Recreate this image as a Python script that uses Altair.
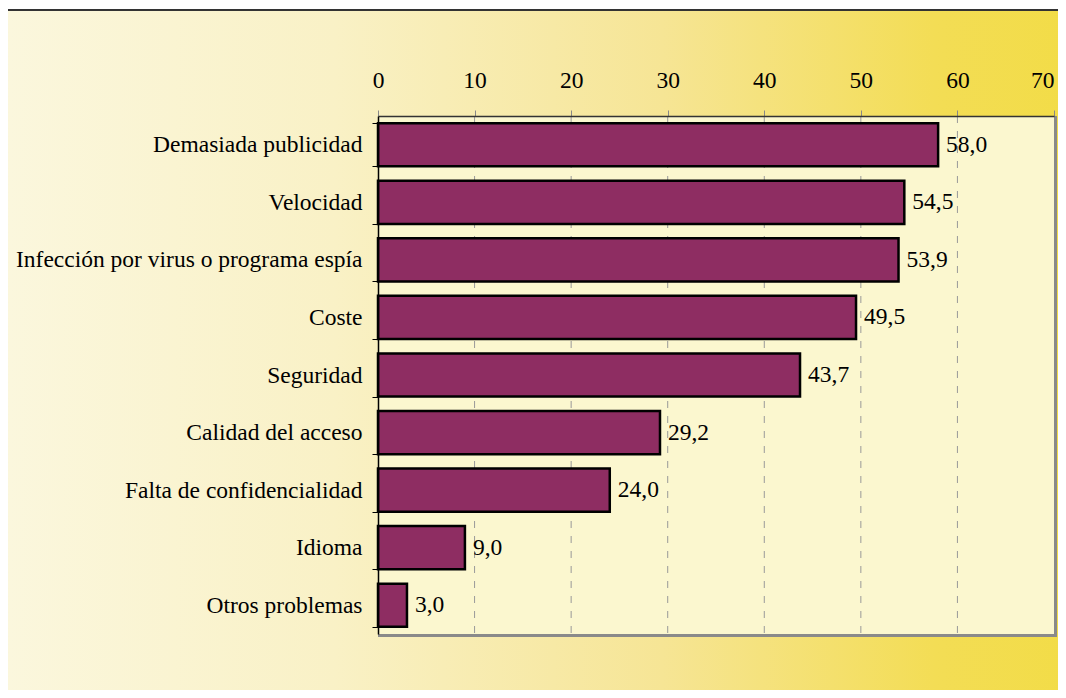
import altair as alt
import pandas as pd

categories = [
    "Demasiada publicidad",
    "Velocidad",
    "Infección por virus o programa espía",
    "Coste",
    "Seguridad",
    "Calidad del acceso",
    "Falta de confidencialidad",
    "Idioma",
    "Otros problemas",
]
values = [58.0, 54.5, 53.9, 49.5, 43.7, 29.2, 24.0, 9.0, 3.0]
x_ticks = [0, 10, 20, 30, 40, 50, 60, 70]
grid_vals = [10, 20, 30, 40, 50, 60]

W, H = 676, 518
FONT = "Liberation Serif"
FS = 23.5

df = pd.DataFrame({"cat": categories, "val": values})
df["label"] = [f"{v:.1f}".replace(".", ",") for v in values]

xscale = alt.Scale(domain=[0, 70], nice=False, zero=True)
yscale = alt.Scale(domain=categories, paddingInner=0.25, paddingOuter=0.125)

one = pd.DataFrame({"a": [0]})

gradient = alt.Gradient(
    gradient="linear",
    x1=0, x2=1, y1=0, y2=0,
    stops=[
        alt.GradientStop(color="#FBF7DD", offset=0),
        alt.GradientStop(color="#F9F1C6", offset=0.3),
        alt.GradientStop(color="#F6E595", offset=0.6),
        alt.GradientStop(color="#F3DD55", offset=0.85),
        alt.GradientStop(color="#F2DC44", offset=1),
    ],
)

bg = alt.Chart(one).mark_rect(fill=gradient, stroke="#333333", strokeWidth=2).encode(
    x=alt.value(-371), x2=alt.value(720), y=alt.value(-106), y2=alt.value(620)
)

shadow = alt.Chart(one).mark_rect(fill="#8A8A8A").encode(
    x=alt.value(0), x2=alt.value(W + 3), y=alt.value(0), y2=alt.value(H + 3)
)

plotbg = alt.Chart(one).mark_rect(fill="#FBF7CF").encode(
    x=alt.value(0), x2=alt.value(W), y=alt.value(0), y2=alt.value(H)
)

grid = alt.Chart(pd.DataFrame({"g": grid_vals})).mark_rule(
    color="#999999", strokeWidth=1, strokeDash=[7, 8]
).encode(x=alt.X("g:Q", scale=xscale))

bars = alt.Chart(df).mark_bar(
    fill="#8E2D62", stroke="#000000", strokeWidth=2.5
).encode(
    x=alt.X(
        "val:Q",
        scale=xscale,
        axis=alt.Axis(
            orient="top",
            values=x_ticks,
            grid=False,
            title=None,
            domainColor="#333333",
            domainWidth=1.5,
            tickColor="#888888",
            tickSize=6,
            labelFont=FONT,
            labelFontSize=FS,
            labelColor="#000000",
            labelPadding=18,
            labelFlush=False,
            labelOverlap=False,
            labelAlign={"condition": {"test": "datum.value == 70", "value": "right"}, "value": "center"},
            zindex=1,
        ),
    ),
    y=alt.Y(
        "cat:N",
        sort=categories,
        scale=yscale,
        axis=alt.Axis(
            title=None,
            domainColor="#000000",
            domainWidth=1.5,
            tickColor="#000000",
            tickSize=6,
            tickBand="extent",
            labelFont=FONT,
            labelFontSize=FS,
            labelColor="#000000",
            labelPadding=10,
            labelLimit=400,
            zindex=1,
        ),
    ),
)

text = alt.Chart(df).mark_text(
    align="left", baseline="middle", dx=8, font=FONT, fontSize=FS, color="#000000"
).encode(
    x=alt.X("val:Q", scale=xscale),
    y=alt.Y("cat:N", sort=categories, scale=yscale),
    text="label:N",
)

chart = alt.layer(bg, shadow, plotbg, grid, bars, text).properties(
    width=W,
    height=H,
    autosize=alt.AutoSizeParams(type="none"),
    padding={"left": 370, "top": 108, "right": 4, "bottom": 56},
).configure_view(stroke=None).configure(background="white")

chart.save("out.html", embed_options={"renderer": "svg", "actions": False})
